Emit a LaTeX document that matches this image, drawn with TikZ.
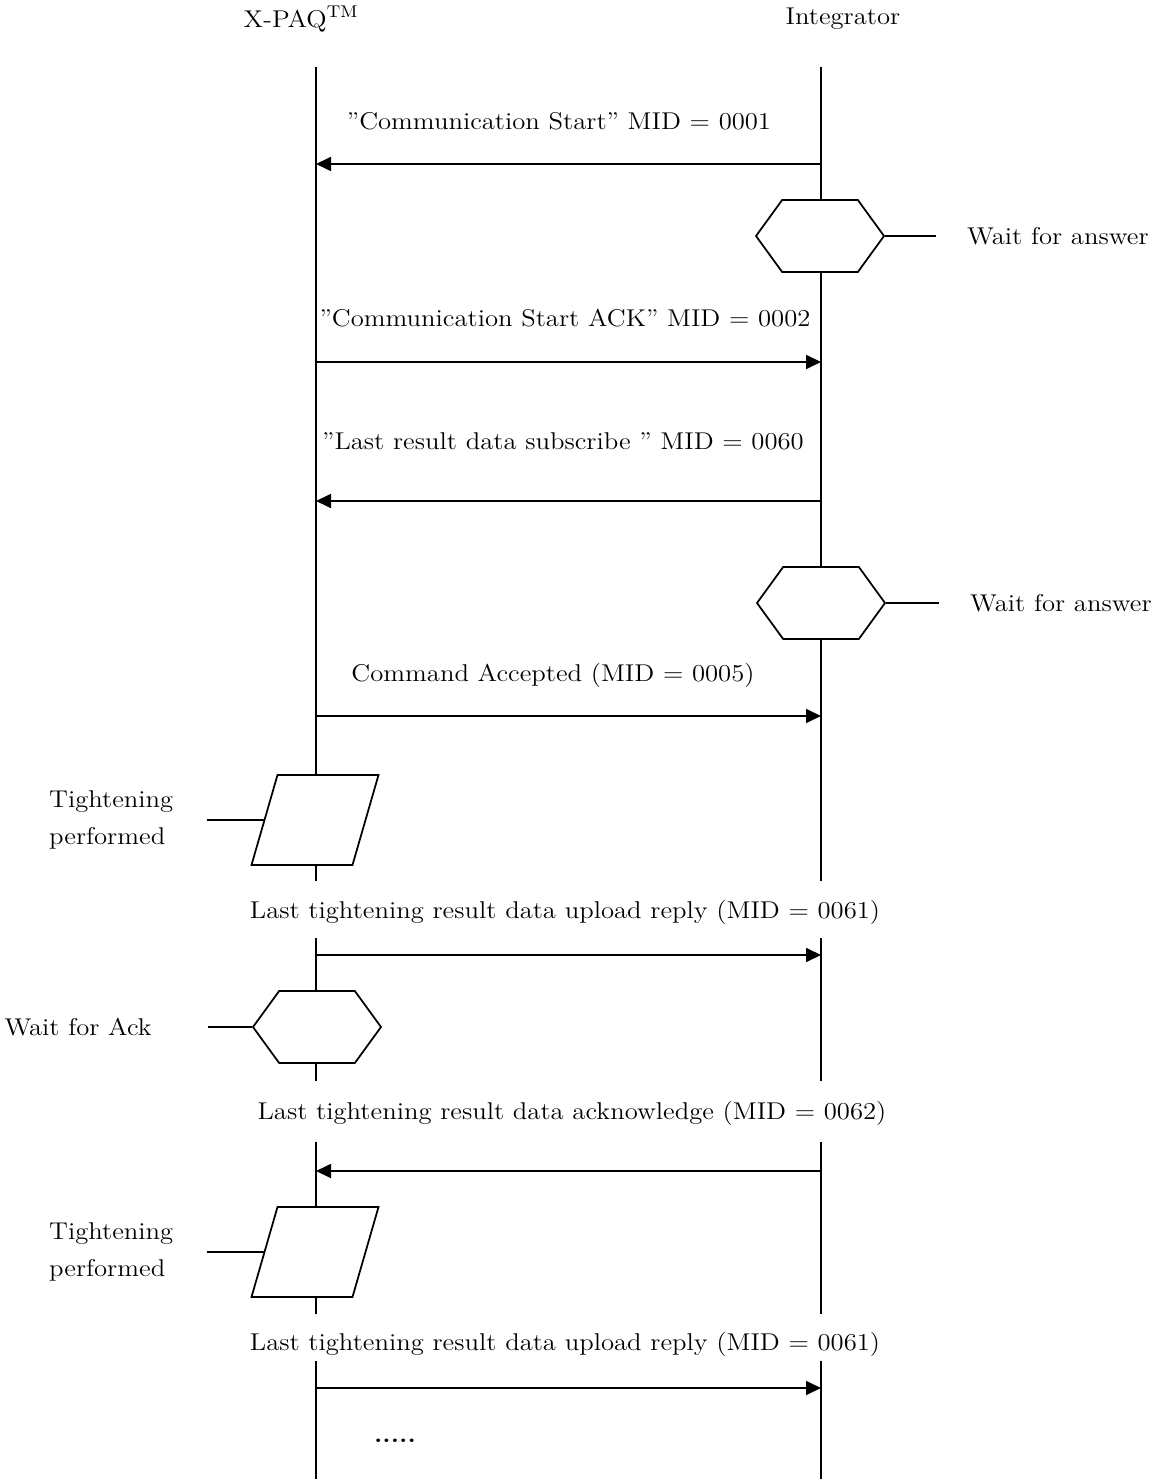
\documentclass[tikz,border=0pt]{standalone}
\usepackage{fontspec}
\setmainfont{Latin Modern Roman}[FakeStretch=1.1]
\usetikzlibrary{arrows.meta,positioning,shapes.symbols}

\begin{document}
\begin{tikzpicture}[x=0.2mm,y=-0.2mm,font=\fontsize{13.8}{21}\selectfont]
  \tikzset{line/.style = {line width=0.35mm}}
  \tikzset{msg/.style = {line, -{Triangle[length=3mm,width=2.8mm]}}}
  \tikzset{wait/.style = {signal, signal to=west and east, signal pointer angle=108,
      draw, line, minimum width=25.6mm, minimum height=14.4mm, inner sep=0pt}}
  \tikzset{work/.style = {rectangle, xslant=0.289, transform shape,
      draw, line, minimum width=20.2mm, minimum height=18mm, inner sep=0pt}}
  \useasboundingbox (0,0) rectangle (1159,1479);
  % heads
  \node (xpaq) at (301,19) {X-PAQ\textsuperscript{TM}};
  \node (intg) at (843,19) {Integrator};
  % lifeline points
  \foreach \n/\y in {0/67,1/881,2/938,3/1081,4/1142,5/1314,6/1361,7/1479} {
    \coordinate (a\n) at (316,\y);
    \coordinate (b\n) at (821,\y);
  }
  % message points
  \foreach \n/\y in {1/164,2/362,3/501,4/716,5/955,6/1171,7/1388} {
    \coordinate (p\n) at (316,\y);
    \coordinate (q\n) at (821,\y);
  }
  % states
  \node[wait] (hx1) at (820,236) {};
  \node[wait] (hx2) at (821,603) {};
  \node[work] (tp1) at (315,820) {};
  \node[wait] (hx3) at (317,1027) {};
  \node[work] (tp2) at (315,1252) {};
  % lifelines
  \draw[line] (a0) -- (a0 |- tp1.north) (a0 |- tp1.south) -- (a1);
  \draw[line] (a2) -- (a2 |- hx3.north) (a2 |- hx3.south) -- (a3);
  \draw[line] (a4) -- (a4 |- tp2.north) (a4 |- tp2.south) -- (a5);
  \draw[line] (a6) -- (a7);
  \draw[line] (b0) -- (b0 |- hx1.north) (b0 |- hx1.south) -- (b0 |- hx2.north)
              (b0 |- hx2.south) -- (b1);
  \draw[line] (b2) -- (b3);
  \draw[line] (b4) -- (b5);
  \draw[line] (b6) -- (b7);
  % side notes
  \coordinate (s1) at (936,236);
  \coordinate (s2) at (939,603);
  \coordinate (s3) at (207,820);
  \coordinate (s4) at (208,1027);
  \coordinate (s5) at (207,1252);
  \draw[line] (hx1.east) -- (s1);
  \draw[line] (hx2.east) -- (s2);
  \draw[line] (tp1.west) -- (s3);
  \draw[line] (hx3.west) -- (s4);
  \draw[line] (tp2.west) -- (s5);
  \node[right=5mm of s1] (n1) {Wait for answer};
  \node[right=5mm of s2] (n2) {Wait for answer};
  \node[left=5.5mm of s3, align=left] (n3) {Tightening\\performed};
  \node[left=10mm of s4] (n4) {Wait for Ack};
  \node[left=5.5mm of s5, align=left] (n5) {Tightening\\performed};
  % messages
  \draw[msg] (q1) -- (p1);
  \draw[msg] (p2) -- (q2);
  \draw[msg] (q3) -- (p3);
  \draw[msg] (p4) -- (q4);
  \draw[msg] (p5) -- (q5);
  \draw[msg] (q6) -- (p6);
  \draw[msg] (p7) -- (q7);
  \node (m1) at (559,121) {”Communication Start” MID = 0001};
  \node (m2) at (565,318) {”Communication Start ACK” MID = 0002};
  \node (m3) at (563,441) {”Last result data subscribe ” MID = 0060};
  \node (m4) at (553,675) {Command Accepted (MID = 0005)};
  \node (m5) at (565,912) {Last tightening result data upload reply (MID = 0061)};
  \node (m6) at (572,1113) {Last tightening result data acknowledge (MID = 0062)};
  \node (m7) at (565,1344) {Last tightening result data upload reply (MID = 0061)};
  \node[anchor=base] (more) at (395,1442) {\textbf{.....}};
\end{tikzpicture}
\end{document}
